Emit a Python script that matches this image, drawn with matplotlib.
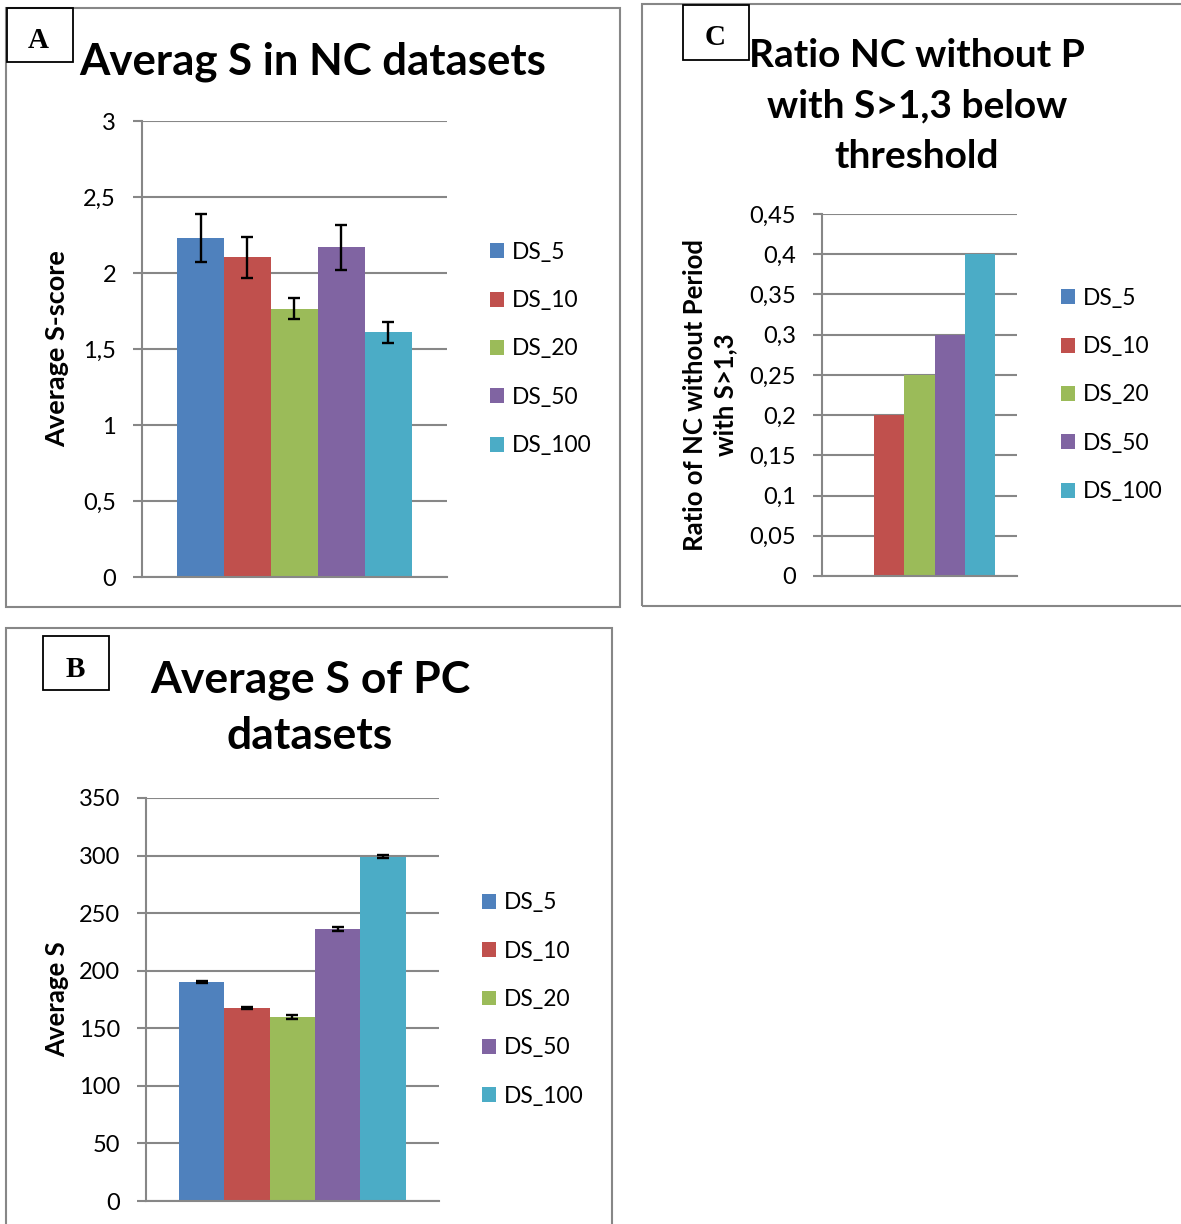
import matplotlib
matplotlib.use('Agg')
import matplotlib.pyplot as plt
from matplotlib.patches import Rectangle
from matplotlib.font_manager import FontProperties
import numpy as np

# ---------------- data ----------------
series = ['DS_5', 'DS_10', 'DS_20', 'DS_50', 'DS_100']
colors = ['#4F81BD', '#C0504D', '#9BBB59', '#8064A2', '#4BACC6']

nc_avg_s = [2.23, 2.105, 1.765, 2.17, 1.61]
nc_avg_s_err = [0.16, 0.135, 0.068, 0.148, 0.068]

pc_avg_s = [190.2, 167.6, 159.8, 236.2, 299.0]
pc_avg_s_err = [0.6, 0.6, 1.5, 1.5, 1.5]

nc_ratio = [0.0, 0.2, 0.25, 0.3, 0.4]

a_yticks = [0, 0.5, 1, 1.5, 2, 2.5, 3]
a_ytick_labels = ['0', '0,5', '1', '1,5', '2', '2,5', '3']
b_yticks = [0, 50, 100, 150, 200, 250, 300, 350]
b_ytick_labels = ['0', '50', '100', '150', '200', '250', '300', '350']
c_yticks = [0, 0.05, 0.1, 0.15, 0.2, 0.25, 0.3, 0.35, 0.4, 0.45]
c_ytick_labels = ['0', '0,05', '0,1', '0,15', '0,2', '0,25', '0,3', '0,35', '0,4', '0,45']

title_a = 'Averag S in NC datasets'
title_b = 'Average S of PC\ndatasets'
title_c = 'Ratio NC without P\nwith S>1,3 below\nthreshold'
ylabel_a = 'Average S-score'
ylabel_b = 'Average S'
ylabel_c = 'Ratio of NC without Period\nwith S>1,3'

# ---------------- layout ----------------
W, H = 1181, 1224
DPI = 100
fig = plt.figure(figsize=(W / DPI, H / DPI), dpi=DPI)
fig.patch.set_facecolor('white')

FONT = 'Lato'
GRAY = '#878787'


def fx(x):
    return x / W


def fy(y):
    return 1 - y / H


def add_axes_px(x0, y0, x1, y1):
    return fig.add_axes([x0 / W, 1 - y1 / H, (x1 - x0) / W, (y1 - y0) / H])


def frame(x0, y0, x1, y1, color=GRAY, lw=1.5):
    fig.add_artist(Rectangle((fx(x0), fy(y1)), (x1 - x0) / W, (y1 - y0) / H,
                             transform=fig.transFigure, fill=False,
                             edgecolor=color, linewidth=lw, clip_on=False))


def letter_box(x0, y0, x1, y1, letter, bx, by):
    frame(x0, y0, x1, y1, color='black', lw=1.3)
    fig.text(fx(bx), fy(by), letter, ha='center', va='baseline',
             fontsize=21, fontweight='bold', family='Liberation Serif')


def panel(box, values, errs, gap, yticks, ylabels, ylim, ylabel,
          ylabel_cx, legend_x, ylabel_ls=1.2, ylabel_fs=18.5):
    x0, y0, x1, y1 = box
    ax = add_axes_px(x0, y0, x1, y1)
    xs = np.arange(len(values))
    for i in range(len(values)):
        kw = {}
        if errs is not None:
            kw = dict(yerr=errs[i], ecolor='black',
                      error_kw=dict(elinewidth=1.7, capsize=4.5, capthick=1.7))
        ax.bar(xs[i], values[i], width=1.0, color=colors[i], label=series[i],
               linewidth=0, zorder=2, **kw)
    ax.set_xlim(-0.5 - gap / 2, len(values) - 0.5 + gap / 2)
    ax.set_ylim(*ylim)
    ax.set_yticks(yticks)
    ax.set_yticklabels(ylabels, family=FONT, fontsize=17)
    ax.set_xticks([])
    ax.tick_params(axis='y', direction='out', length=6.5, width=1.5,
                   color=GRAY, pad=12)
    ax.yaxis.grid(True, color=GRAY, linewidth=1.5, zorder=0)
    ax.set_axisbelow(True)
    for s in ['top', 'right']:
        ax.spines[s].set_visible(False)
    for s in ['left', 'bottom']:
        ax.spines[s].set_color(GRAY)
        ax.spines[s].set_linewidth(1.5)
    ax.set_ylabel(ylabel, family=FONT, fontweight='bold', fontsize=ylabel_fs,
                  va='center', ha='center', linespacing=ylabel_ls)
    ax.yaxis.set_label_coords((ylabel_cx - x0) / (x1 - x0), 0.5)
    ax.legend(loc='center left',
              bbox_to_anchor=((legend_x - x0) / (x1 - x0), 0.5),
              frameon=False, handlelength=0.63, handleheight=0.63,
              handletextpad=0.33, labelspacing=1.2, borderpad=0,
              borderaxespad=0, prop=FontProperties(family=FONT, size=16.4))
    return ax


# panel frames
frame(6, 8, 620, 607)
frame(642, 4, 1190, 606)
frame(6, 628, 612, 1235)

# Panel A
panel((141.7, 121, 447, 577), nc_avg_s, nc_avg_s_err, 1.51,
      a_yticks, a_ytick_labels, (0, 3), ylabel_a, 57, 490, ylabel_fs=19.5)
letter_box(7, 8, 73, 62, 'A', 38, 48)
fig.text(fx(313), fy(75), title_a, ha='center', va='baseline',
         family=FONT, fontweight='bold', fontsize=31.5)

# Panel C
panel((821.7, 214, 1017, 576), nc_ratio, None, 1.43,
      c_yticks, c_ytick_labels, (0, 0.45), ylabel_c, 710, 1061,
      ylabel_ls=1.3)
letter_box(683, 5, 749, 60, 'C', 715, 45)
fig.text(fx(917), fy(106), title_c, ha='center', va='center',
         family=FONT, fontweight='bold', fontsize=28, linespacing=1.55)

# Panel B
panel((145.7, 798, 439, 1201), pc_avg_s, pc_avg_s_err, 1.476,
      b_yticks, b_ytick_labels, (0, 350), ylabel_b, 57, 482)
letter_box(43, 636, 109, 690, 'B', 75, 677)
fig.text(fx(310), fy(708), title_b, ha='center', va='center',
         family=FONT, fontweight='bold', fontsize=32, linespacing=1.5)

fig.savefig('out.png', dpi=DPI)
